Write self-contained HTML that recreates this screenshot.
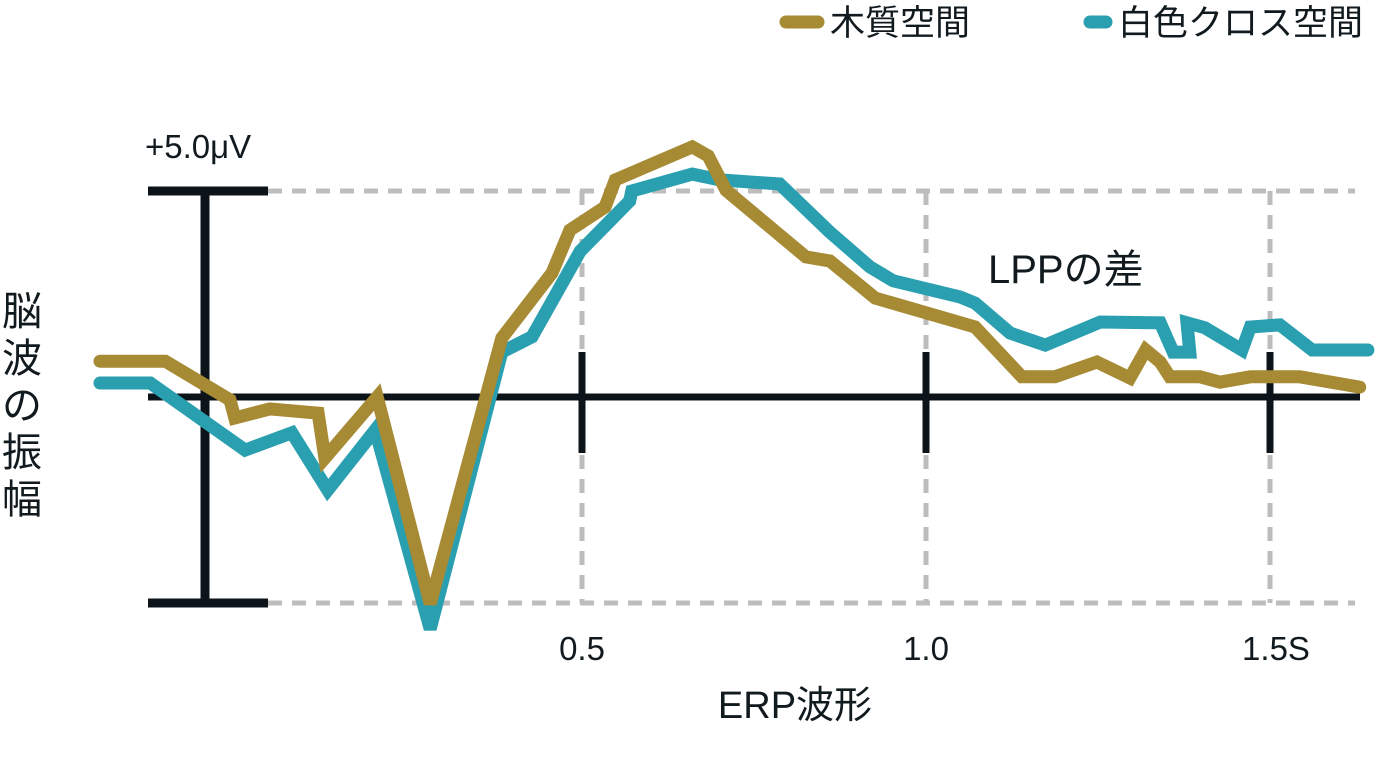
<!DOCTYPE html>
<html><head><meta charset="utf-8"><style>
html,body{margin:0;padding:0;background:#fff;}
svg{display:block;}
text{font-family:"Liberation Sans","Noto Sans CJK JP",sans-serif;fill:#111a1f;}
</style></head><body>
<svg id="chart" width="1400" height="767" viewBox="0 0 1400 767">
<g id="grid"></g>
<g id="axes"></g>
<g id="series"></g>
<g id="labels">
  <text x="145" y="158" font-size="33">+5.0μV</text>
  <text x="795" y="718" font-size="38" text-anchor="middle">ERP波形</text>
  <text x="988" y="283" font-size="40">LPPの差</text>
  <g>
    <text x="22" y="325" font-size="40" text-anchor="middle">脳</text>
    <text x="22" y="372" font-size="40" text-anchor="middle">波</text>
    <text x="22" y="419" font-size="40" text-anchor="middle">の</text>
    <text x="22" y="466" font-size="40" text-anchor="middle">振</text>
    <text x="22" y="513" font-size="40" text-anchor="middle">幅</text>
  </g>
  <g>
    <g>
      <line x1="786" y1="22" x2="818" y2="22" stroke="#a68a34" stroke-width="13" stroke-linecap="round"/>
      <text x="830" y="35" font-size="35">木質空間</text>
    </g>
    <g>
      <line x1="1090" y1="22" x2="1106" y2="22" stroke="#2a9fb0" stroke-width="13" stroke-linecap="round"/>
      <text x="1118" y="35" font-size="35">白色クロス空間</text>
    </g>
  </g>
</g>
</svg>
<script>
const xTicks = [0.5, 1.0, 1.5];
const xTickLabels = ["0.5", "1.0", "1.5S"];
const goldT = [-0.205,-0.110,-0.016,-0.009,0.042,0.112,0.122,0.198,0.275,0.379,0.452,0.478,0.529,0.544,0.656,0.679,0.705,0.821,0.856,0.922,1.067,1.135,1.183,1.244,1.292,1.315,1.336,1.350,1.394,1.423,1.467,1.539,1.626];
const goldV = [0.87,0.87,-0.07,-0.51,-0.29,-0.39,-1.48,0.00,-5.02,1.43,3.01,4.05,4.61,5.27,6.07,5.85,5.02,3.40,3.30,2.40,1.70,0.49,0.49,0.85,0.46,1.14,0.85,0.49,0.49,0.36,0.49,0.49,0.24];
const tealT = [-0.205,-0.132,0.006,0.074,0.126,0.195,0.275,0.379,0.423,0.493,0.565,0.568,0.656,0.696,0.783,0.856,0.914,0.948,1.045,1.067,1.118,1.169,1.249,1.336,1.355,1.379,1.375,1.401,1.455,1.467,1.510,1.557,1.638];
const tealV = [0.34,0.34,-1.29,-0.87,-2.26,-0.80,-5.63,1.09,1.46,3.54,4.76,5.00,5.41,5.27,5.17,4.00,3.16,2.82,2.43,2.28,1.55,1.26,1.82,1.80,1.09,1.09,1.80,1.68,1.14,1.70,1.75,1.14,1.14];

const NS = "http://www.w3.org/2000/svg";
function xs(t){ return 241 + 688*t; }
function ys(v){ return 397 - 41.2*v; }
function mk(tag, attrs, parent){
  const e = document.createElementNS(NS, tag);
  for (const k in attrs) e.setAttribute(k, attrs[k]);
  parent.appendChild(e);
  return e;
}
const grid = document.getElementById('grid');
const axes = document.getElementById('axes');
const series = document.getElementById('series');
const dash = {stroke:"#bdbdbd","stroke-width":5,"stroke-dasharray":"14 10",fill:"none"};
[5,-5].forEach(v=>{
  const l = mk('line', Object.assign({x1:268,x2:1355,y1:ys(v),y2:ys(v)},dash), grid);
  
  
});
xTicks.forEach(t=>{
  const l = mk('line', Object.assign({x1:xs(t)-3,x2:xs(t)-3,y1:ys(5),y2:ys(-5)},dash), grid);
  
  
});
const ax = mk('line',{x1:148,x2:1360,y1:ys(0),y2:ys(0),stroke:"#0d1419","stroke-width":7}, axes);


const sb = mk('path',{d:`M205 ${ys(5)} V ${ys(-5)} M148 ${ys(5)} H268 M148 ${ys(-5)} H268`,stroke:"#0d1419","stroke-width":9,fill:"none"}, axes);


xTicks.forEach((t,i)=>{
  const tk = mk('line',{x1:xs(t)-3,x2:xs(t)-3,y1:352,y2:453,stroke:"#0d1419","stroke-width":7}, axes);
  
  
  const tx = mk('text',{x:xs(t)-3+(i==2?6:0),y:660,"font-size":33,"text-anchor":"middle"}, axes);
  tx.textContent = xTickLabels[i];
  
  
});
function drawLine(T,V,color,name){
  const d = T.map((t,i)=>(i?'L':'M')+xs(t).toFixed(1)+' '+ys(V[i]).toFixed(1)).join(' ');
  const p = mk('path',{d:d,stroke:color,"stroke-width":13,fill:"none","stroke-linejoin":"miter","stroke-miterlimit":3,"stroke-linecap":"round"}, series);
  
  
}
drawLine(tealT,tealV,"#2a9fb0","series-white-cross");
drawLine(goldT,goldV,"#a68a34","series-wood");
</script>
</body></html>
